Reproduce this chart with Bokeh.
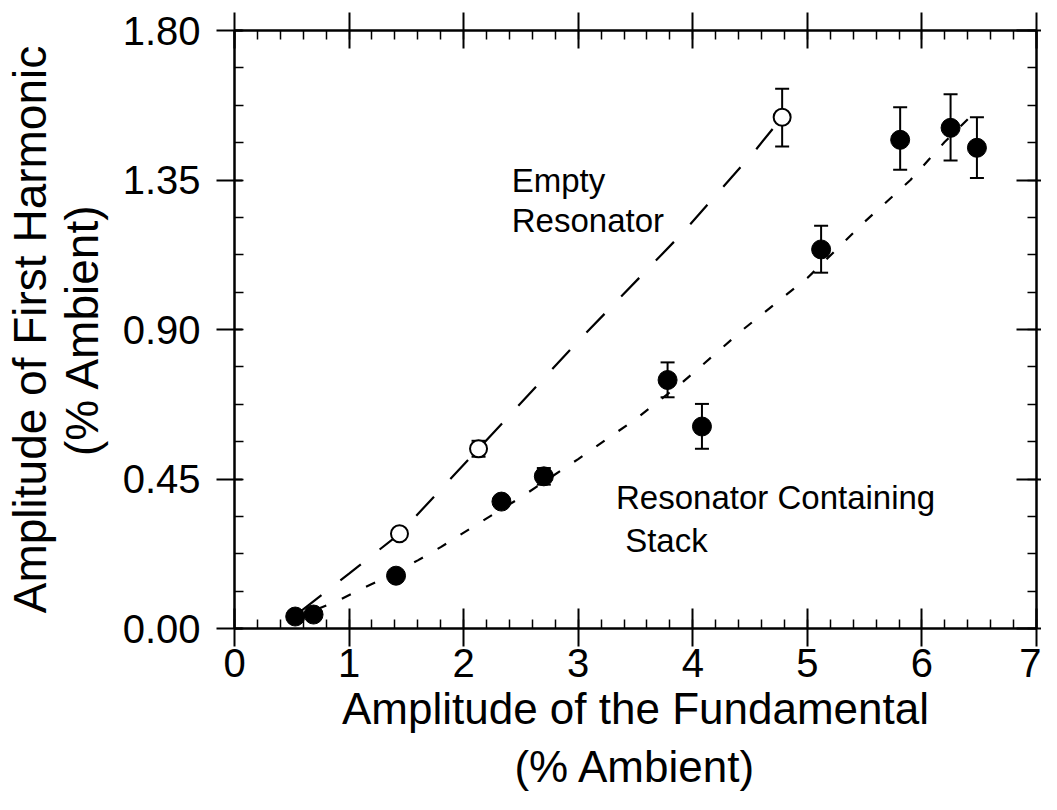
from bokeh.plotting import figure
from bokeh.models import LinearAxis, FixedTicker, Range1d, PrintfTickFormatter, CustomJSTickFormatter
from bokeh.core.properties import value
from bokeh.embed import file_html
from bokeh.resources import INLINE

# ---------------- data ----------------
x_ticks = [0, 1, 2, 3, 4, 5, 6, 7]
x_minor = [round(i * 0.2, 2) for i in range(36)]
y_ticks = [0.00, 0.45, 0.90, 1.35, 1.80]
y_minor = [round(i * 0.1125, 4) for i in range(17)]

# Empty resonator (open circles)
empty_x = [1.44, 2.13, 4.78]
empty_y = [0.285, 0.541, 1.539]
empty_lo = [0.275, 0.517, 1.451]
empty_hi = [0.295, 0.565, 1.625]

# Resonator containing stack (filled circles)
stack_x = [0.53, 0.69, 1.41, 2.33, 2.70, 3.78, 4.08, 5.12, 5.81, 6.25, 6.48]
stack_y = [0.036, 0.042, 0.159, 0.382, 0.458, 0.748, 0.608, 1.141, 1.471, 1.507, 1.447]
stack_lo = [0.036, 0.042, 0.159, 0.372, 0.433, 0.696, 0.541, 1.071, 1.381, 1.409, 1.356]
stack_hi = [0.036, 0.042, 0.159, 0.392, 0.483, 0.801, 0.676, 1.212, 1.569, 1.608, 1.539]

# fitted curves
empty_fit_x = [0.58, 1.0, 1.44, 2.13, 3.0, 3.92, 4.55, 4.70]
empty_fit_y = [0.052, 0.165, 0.285, 0.541, 0.865, 1.194, 1.441, 1.505]
stack_fit_x = [0.72, 0.9, 1.1, 1.3, 1.6, 1.8, 2.1, 2.5, 3.0, 3.5, 3.9, 4.45, 4.8, 5.0, 5.5, 5.9, 6.2, 6.45]
stack_fit_y = [0.058, 0.083, 0.118, 0.150, 0.205, 0.245, 0.310, 0.395, 0.510, 0.630, 0.738, 0.903, 1.000, 1.055, 1.224, 1.350, 1.465, 1.550]

label_text = ["Empty", "Resonator", "Resonator Containing", "Stack"]
label_x = [2.42, 2.42, 3.33, 3.41]
label_y = [1.348, 1.228, 0.395, 0.265]

FONT = "Liberation Sans"

p = figure(width=1041, height=794, output_backend="svg", toolbar_location=None,
           x_range=Range1d(0, 7), y_range=Range1d(0, 1.8),
           x_axis_location=None, y_axis_location=None,
           min_border_left=226, min_border_right=5, min_border_top=30, min_border_bottom=165)
p.xgrid.visible = False
p.ygrid.visible = False
p.outline_line_color = "black"
p.outline_line_width = 2
p.background_fill_color = "white"
p.border_fill_color = "white"


def style(ax, tin, tout, ticks, minor, labels=True):
    ax.ticker = FixedTicker(ticks=ticks, minor_ticks=minor)
    ax.axis_line_width = 2
    ax.axis_line_color = "black"
    ax.major_tick_line_width = 2
    ax.minor_tick_line_width = 1.5
    ax.major_tick_in = tin
    ax.major_tick_out = tout
    ax.minor_tick_in = 9
    ax.minor_tick_out = 0
    ax.major_label_text_font = FONT
    ax.major_label_text_font_size = "40px"
    ax.major_label_text_color = "black"
    ax.axis_label_text_font = FONT
    ax.axis_label_text_font_style = "normal"
    ax.axis_label_text_color = "black"
    if not labels:
        ax.formatter = CustomJSTickFormatter(code="return ''")
        ax.major_label_standoff = 0


xb = LinearAxis(axis_label="Amplitude of the Fundamental\n(% Ambient)")
style(xb, 20, 18, x_ticks, x_minor)
xb.axis_label_text_font_size = "44px"
xb.axis_label_text_line_height = 1.2
xb.major_label_standoff = 2
xb.axis_label_standoff = 4
p.add_layout(xb, "below")

yl = LinearAxis(axis_label="Amplitude of First Harmonic\n(% Ambient)")
style(yl, 8, 18, y_ticks, y_minor)
yl.axis_label_text_font_size = "46px"
yl.axis_label_text_line_height = 1.0
yl.formatter = PrintfTickFormatter(format="%.2f")
yl.major_label_standoff = 16
yl.axis_label_standoff = 12
p.add_layout(yl, "left")

xt = LinearAxis()
style(xt, 18, 18, x_ticks, x_minor, labels=False)
p.add_layout(xt, "above")

yr = LinearAxis()
style(yr, 20, 5, y_ticks, y_minor, labels=False)
p.add_layout(yr, "right")

# fit lines
p.line(empty_fit_x, empty_fit_y, line_color="black", line_width=2.2, line_dash="26 24")
p.line(stack_fit_x, stack_fit_y, line_color="black", line_width=2.2, line_dash="10 17")

# error bars
p.segment(x0=empty_x, y0=empty_lo, x1=empty_x, y1=empty_hi, line_color="black", line_width=2)
p.segment(x0=stack_x, y0=stack_lo, x1=stack_x, y1=stack_hi, line_color="black", line_width=2)
p.scatter(empty_x + empty_x, empty_lo + empty_hi, marker="dash", size=14, line_color="black", line_width=2)
p.scatter(stack_x[3:] + stack_x[3:], stack_lo[3:] + stack_hi[3:], marker="dash", size=14,
          line_color="black", line_width=2)

# markers
p.scatter(stack_x, stack_y, marker="circle", size=19, fill_color="black", line_color="black")
p.scatter(empty_x, empty_y, marker="circle", size=17, fill_color="white", line_color="black", line_width=2)

p.text(x=label_x, y=label_y, text=label_text, text_font=value(FONT), text_font_size="33px",
       text_baseline="alphabetic", text_align="left", text_color="black")

open("out.html", "w").write(file_html(p, INLINE))
